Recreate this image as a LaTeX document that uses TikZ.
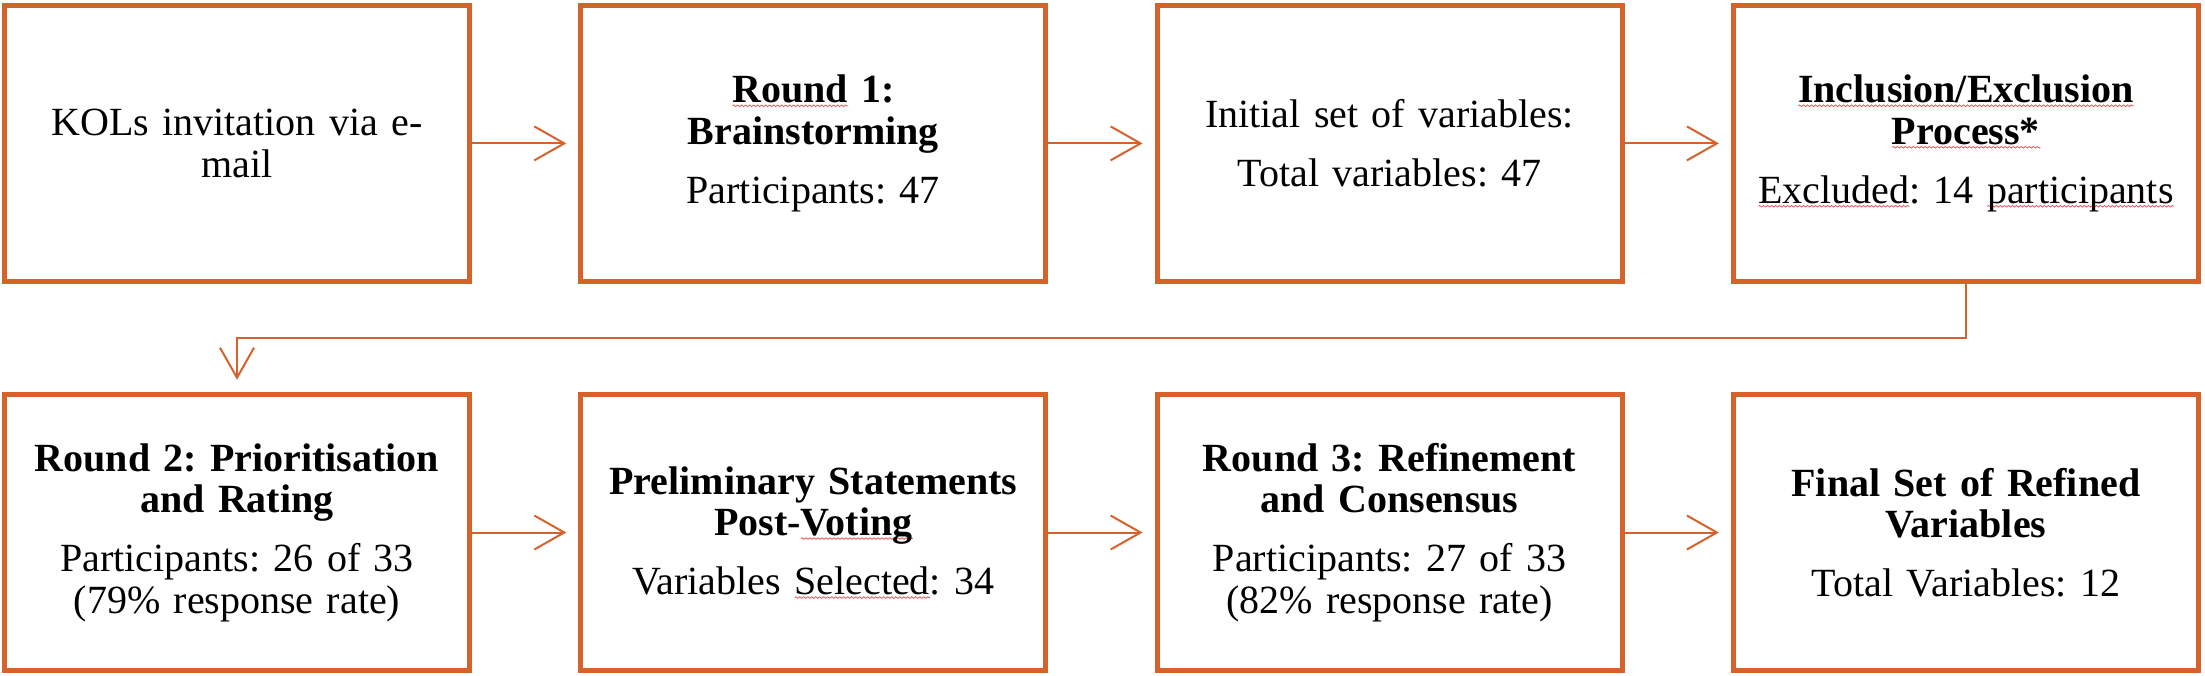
\documentclass[tikz,border=0pt]{standalone}
\usepackage{fontspec}
\setmainfont{Liberation Serif}
\usetikzlibrary{arrows.meta,decorations.pathmorphing}
\definecolor{boxorange}{RGB}{214,98,42}
\definecolor{spellred}{RGB}{228,90,90}
\newlength\squigw
\newsavebox\squigbox
\newcommand\squig[1]{\leavevmode\sbox\squigbox{#1}\squigw=\wd\squigbox\relax\rlap{\raisebox{-3pt}{\tikz[x=1pt,y=1pt,baseline=0pt]\draw[spellred,line width=0.8pt,decorate,decoration={zigzag,segment length=4pt,amplitude=0.8pt}] (0,0) -- (\squigw,0);}}\usebox\squigbox}
\frenchspacing
\begin{document}
\begin{tikzpicture}[x=1pt,y=-1pt,
  box/.style={draw=boxorange, line width=5pt, minimum width=465pt, minimum height=276.5pt,
    inner sep=0pt, text width=460pt, align=center, font=\fontsize{40}{41.5}\selectfont\frenchspacing},
  flow/.style={draw=boxorange, line width=2pt, -{Straight Barb[length=30pt,width=34pt]}, shorten >=12pt}]
\useasboundingbox (0,0) rectangle (2205,676);
\node[box] (b1) at (237,143.4) {KOLs invitation via e-\\mail};
\node[box] (b2) at (813.3,143.4) {\textbf{\squig{Round} 1:}\\\textbf{Brainstorming}\\[17.5pt]Participants: 47};
\node[box] (b3) at (1389.6,143.4) {Initial set of variables:\\[17.5pt]Total variables: 47};
\node[box] (b4) at (1965.9,143.4) {\textbf{\squig{Inclusion/Exclusion}}\\\textbf{\squig{Process*}}\\[17.5pt]\squig{Excluded}: 14 \squig{participants}};
\node[box] (b5) at (237,532.5) {\textbf{Round 2: Prioritisation}\\\textbf{and Rating}\\[17.5pt]Participants: 26 of 33\\(79\% response rate)};
\node[box] (b6) at (813.3,532.5) {\textbf{Preliminary Statements}\\\textbf{Post-\squig{Voting}}\\[17.5pt]Variables \squig{Selected}: 34};
\node[box] (b7) at (1389.6,532.5) {\textbf{Round 3: Refinement}\\\textbf{and Consensus}\\[17.5pt]Participants: 27 of 33\\(82\% response rate)};
\node[box] (b8) at (1965.9,532.5) {\textbf{Final Set of Refined}\\\textbf{Variables}\\[17.5pt]Total Variables: 12};
\draw[flow] (b1.east) -- (b2.west);
\draw[flow] (b2.east) -- (b3.west);
\draw[flow] (b3.east) -- (b4.west);
\draw[flow] (b5.east) -- (b6.west);
\draw[flow] (b6.east) -- (b7.west);
\draw[flow] (b7.east) -- (b8.west);
\draw[flow] (b4.south) -- ++(0,53.5) -| (b5.north);
\end{tikzpicture}
\end{document}
